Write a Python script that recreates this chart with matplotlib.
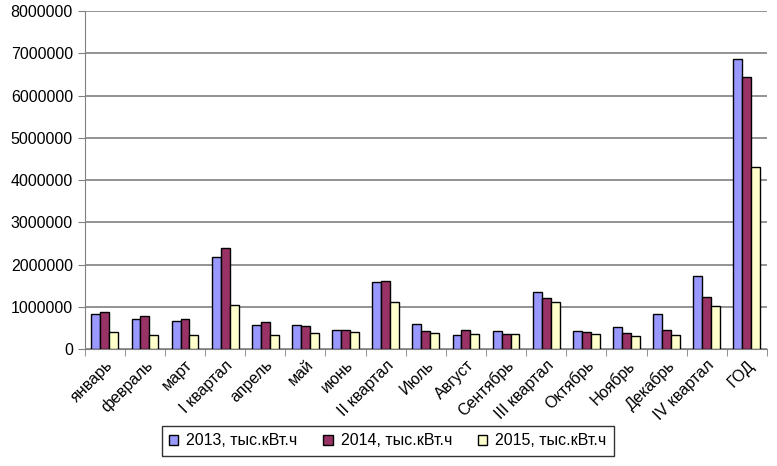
import numpy as np
import matplotlib.pyplot as plt

plt.rcParams['font.family'] = ['Liberation Sans', 'DejaVu Sans']

months = ["январь", "февраль", "март", "I квартал", "апрель", "май", "июнь",
          "II квартал", "Июль", "Август", "Сентябрь", "III квартал",
          "Октябрь", "Ноябрь", "Декабрь", "IV квартал", "ГОД"]

y2013 = [830000, 700000, 660000, 2180000, 580000, 580000, 440000,
         1580000, 600000, 330000, 420000, 1340000,
         420000, 520000, 830000, 1740000, 6870000]
y2014 = [870000, 790000, 720000, 2390000, 630000, 540000, 450000,
         1620000, 420000, 440000, 350000, 1200000,
         400000, 390000, 440000, 1230000, 6440000]
y2015 = [400000, 330000, 340000, 1050000, 330000, 380000, 400000,
         1120000, 380000, 360000, 350000, 1110000,
         360000, 320000, 330000, 1010000, 4300000]

series = [("2013, тыс.кВт.ч", y2013, "#9999FF"),
          ("2014, тыс.кВт.ч", y2014, "#993366"),
          ("2015, тыс.кВт.ч", y2015, "#FFFFCC")]

fig = plt.figure(figsize=(7.77, 4.66), dpi=100)
ax = fig.add_axes([0.109, 0.251, 0.878, 0.725])

x = np.arange(len(months))
w = 0.222
for i, (name, vals, col) in enumerate(series):
    ax.bar(x + (i - 1) * w, vals, w, color=col, edgecolor="black",
           linewidth=1.0, label=name, zorder=3)

ax.set_xlim(-0.5, len(months) - 0.5)
ax.set_ylim(0, 8000000)
ax.set_yticks(np.arange(0, 8000001, 1000000))
ax.set_yticklabels([str(v) for v in range(0, 8000001, 1000000)], fontsize=11.5)
ax.yaxis.grid(True, color="#808080", linewidth=1.2, zorder=0)

ax.set_xticks(x)
ax.set_xticklabels(months, rotation=45, ha="right", rotation_mode="anchor", fontsize=11.5)
ax.set_xticks(np.arange(-0.5, len(months), 1), minor=True)
ax.tick_params(axis="x", which="major", length=0, pad=6)
ax.tick_params(axis="x", which="minor", length=5, color="#808080")
ax.tick_params(axis="y", length=5, color="#808080", direction="out")

for s in ["top", "right"]:
    ax.spines[s].set_visible(False)
ax.spines["left"].set_color("#808080")
ax.spines["bottom"].set_color("#808080")

leg = fig.legend(loc="center", bbox_to_anchor=(0.499, 0.054), ncol=3,
                 fontsize=11.5, frameon=True, fancybox=False, edgecolor="black",
                 handlelength=0.6, handleheight=0.6, handletextpad=0.5,
                 columnspacing=1.6, borderpad=0.45, borderaxespad=0)
leg.get_frame().set_linewidth(1.0)

fig.savefig("out.png", dpi=100)
